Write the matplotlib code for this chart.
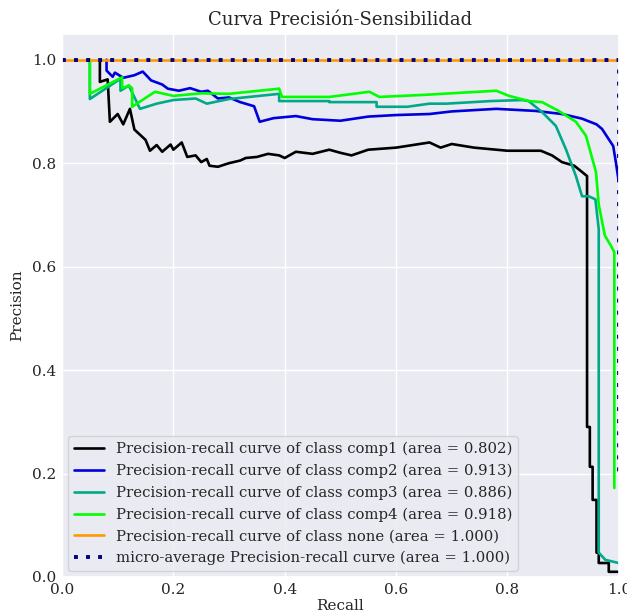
import matplotlib
matplotlib.use("Agg")
import matplotlib.pyplot as plt
import seaborn as sns
import numpy as np

sns.set_theme(style="darkgrid")
plt.rcParams['font.family'] = ['DejaVu Serif']

classes = ["comp1", "comp2", "comp3", "comp4", "none"]
areas = [0.802, 0.913, 0.886, 0.918, 1.000]
micro_area = 1.000

recall_comp1 = [0.068, 0.068, 0.082, 0.086, 0.10, 0.11, 0.122, 0.13, 0.15, 0.158, 0.17, 0.18, 0.195,
                0.20, 0.215, 0.225, 0.24, 0.25, 0.26, 0.265, 0.28, 0.30, 0.32, 0.33, 0.35, 0.37, 0.39,
                0.40, 0.42, 0.45, 0.48, 0.50, 0.52, 0.55, 0.60, 0.63, 0.66, 0.68, 0.70, 0.74, 0.78,
                0.80, 0.86, 0.88, 0.898, 0.92, 0.934, 0.943, 0.943, 0.948, 0.948, 0.953, 0.953, 0.96,
                0.96, 0.964, 0.964, 0.982, 0.982, 1.0]
precision_comp1 = [1.0, 0.957, 0.962, 0.88, 0.895, 0.875, 0.905, 0.865, 0.845, 0.824, 0.835, 0.822, 0.836,
                   0.826, 0.84, 0.812, 0.815, 0.802, 0.808, 0.795, 0.793, 0.80, 0.805, 0.81, 0.812, 0.818, 0.815,
                   0.81, 0.822, 0.818, 0.826, 0.82, 0.815, 0.826, 0.83, 0.835, 0.84, 0.83, 0.837, 0.83, 0.826,
                   0.824, 0.824, 0.815, 0.802, 0.795, 0.783, 0.775, 0.29, 0.29, 0.213, 0.213, 0.149, 0.149,
                   0.047, 0.047, 0.027, 0.027, 0.01, 0.01]

recall_comp2 = [0.08, 0.08, 0.091, 0.095, 0.11, 0.13, 0.145, 0.16, 0.18, 0.19, 0.21, 0.23, 0.25, 0.262,
                0.28, 0.30, 0.32, 0.345, 0.355, 0.38, 0.42, 0.45, 0.50, 0.55, 0.60, 0.66, 0.70, 0.78,
                0.85, 0.898, 0.934, 0.96, 0.97, 0.99, 0.995, 1.0]
precision_comp2 = [1.0, 0.979, 0.967, 0.975, 0.965, 0.97, 0.977, 0.96, 0.952, 0.944, 0.94, 0.945, 0.938, 0.94,
                   0.925, 0.927, 0.918, 0.91, 0.88, 0.887, 0.891, 0.885, 0.882, 0.89, 0.893, 0.895, 0.90, 0.905,
                   0.901, 0.895, 0.886, 0.875, 0.866, 0.833, 0.80, 0.764]

recall_comp3 = [0.05, 0.05, 0.105, 0.105, 0.12, 0.14, 0.17, 0.20, 0.24, 0.26, 0.30, 0.39, 0.39, 0.48,
                0.48, 0.565, 0.565, 0.62, 0.66, 0.69, 0.77, 0.826, 0.838, 0.862, 0.887, 0.905, 0.923,
                0.934, 0.946, 0.958, 0.964, 0.964, 0.976, 1.0]
precision_comp3 = [1.0, 0.924, 0.963, 0.94, 0.95, 0.905, 0.915, 0.922, 0.925, 0.915, 0.924, 0.934, 0.92, 0.92,
                   0.918, 0.918, 0.909, 0.909, 0.915, 0.915, 0.92, 0.922, 0.92, 0.899, 0.872, 0.827, 0.775,
                   0.736, 0.736, 0.73, 0.672, 0.047, 0.033, 0.027]

recall_comp4 = [0.05, 0.05, 0.108, 0.108, 0.12, 0.126, 0.126, 0.167, 0.20, 0.25, 0.30, 0.39, 0.395, 0.48,
                0.552, 0.57, 0.65, 0.78, 0.803, 0.839, 0.862, 0.892, 0.923, 0.941, 0.959, 0.964, 0.975,
                0.986, 0.992, 0.992]
precision_comp4 = [1.0, 0.934, 0.966, 0.945, 0.95, 0.945, 0.909, 0.938, 0.93, 0.935, 0.934, 0.944, 0.928, 0.928,
                   0.938, 0.928, 0.932, 0.94, 0.93, 0.92, 0.918, 0.901, 0.88, 0.853, 0.783, 0.72, 0.66,
                   0.64, 0.628, 0.172]

recall_none = [0.0, 1.0]
precision_none = [1.0, 1.0]

recall_micro = [0.0, 1.0, 1.0]
precision_micro = [1.0, 1.0, 0.2]

recalls = [recall_comp1, recall_comp2, recall_comp3, recall_comp4, recall_none]
precisions = [precision_comp1, precision_comp2, precision_comp3, precision_comp4, precision_none]

fig = plt.figure(figsize=(6.27, 6.14), dpi=100)
ax = fig.add_axes([0.0989, 0.0603, 0.888, 0.8846])
ax.set_facecolor("#EAEAF2")

cmap = plt.get_cmap("nipy_spectral")
for i, cls in enumerate(classes):
    color = cmap(float(i) / len(classes))
    ax.plot(recalls[i], precisions[i], lw=1.9, color=color,
            label="Precision-recall curve of class {0} (area = {1:0.3f})".format(cls, areas[i]))

ax.plot(recall_micro, precision_micro,
        label="micro-average Precision-recall curve (area = {0:0.3f})".format(micro_area),
        color="navy", linestyle=(0, (1, 2.1)), linewidth=2.8)

ax.set_xlim([0.0, 1.0])
ax.set_ylim([0.0, 1.05])
ax.set_xlabel("Recall", fontsize=11, labelpad=2)
ax.set_ylabel("Precision", fontsize=11, labelpad=6)
ax.set_title("Curva Precisión-Sensibilidad", fontsize=13)
ax.tick_params(labelsize=11, length=0, pad=4)
ax.legend(loc="lower left", fontsize=10.7, borderaxespad=0.4)

fig.savefig("out.png", dpi=100)
